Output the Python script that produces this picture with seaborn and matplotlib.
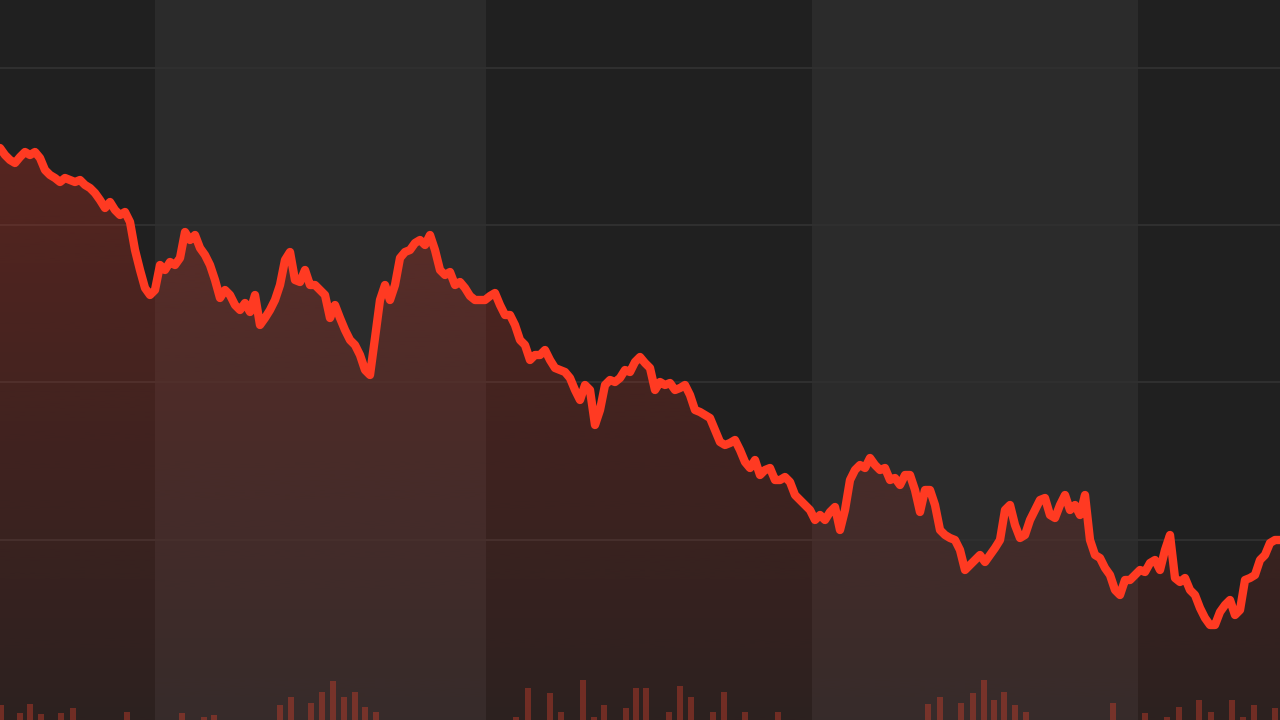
import numpy as np
import pandas as pd
import matplotlib
matplotlib.use("Agg")
import matplotlib.pyplot as plt
from matplotlib.patches import Polygon
from matplotlib.colors import to_rgb
import seaborn as sns

# price level per session (chart units)
price = [572, 565, 560, 557, 563, 568, 565, 568, 562, 550,
         545, 542, 538, 542, 540, 538, 540, 535, 532, 527,
         520, 512, 518, 510, 505, 508, 498, 470, 450, 432,
         425, 430, 455, 450, 458, 455, 462, 488, 480, 485,
         472, 465, 455, 440, 422, 430, 425, 415, 410, 417,
         408, 425, 395, 402, 410, 420, 435, 460, 468, 440,
         438, 450, 435, 435, 430, 425, 402, 415, 402, 390,
         380, 375, 365, 350, 345, 382, 420, 435, 420, 435,
         462, 468, 470, 477, 480, 475, 485, 470, 450, 445,
         448, 435, 438, 432, 424, 420, 420, 420, 424, 427,
         415, 405, 405, 395, 380, 375, 360, 365, 365, 370,
         360, 352, 350, 348, 342, 330, 320, 335, 330, 295,
         310, 335, 340, 338, 342, 350, 348, 358, 363, 357,
         352, 330, 338, 335, 337, 330, 332, 335, 325, 310,
         308, 305, 302, 290, 278, 275, 277, 280, 270, 258,
         252, 260, 245, 250, 252, 240, 240, 243, 238, 225,
         220, 215, 210, 200, 205, 200, 208, 213, 190, 210,
         240, 250, 255, 252, 262, 255, 250, 252, 240, 242,
         235, 245, 245, 230, 208, 230, 230, 215, 190, 185,
         182, 180, 170, 150, 155, 160, 165, 158, 165, 172,
         180, 210, 215, 195, 182, 185, 200, 210, 220, 222,
         205, 202, 215, 225, 210, 215, 205, 225, 180, 165,
         162, 152, 145, 130, 125, 140, 140, 145, 150, 148,
         157, 160, 150, 170, 185, 142, 138, 142, 130, 125,
         112, 102, 95, 95, 108, 115, 120, 105, 110, 140,
         142, 145, 160, 165, 177, 180, 180]

# volume bars: session position and height
vol_pos = [0.2, 4, 6, 8.2, 12.2, 14.6, 25.4, 36.4, 40.8, 42.8,
           56, 58.2, 62.2, 64.4, 66.6, 68.8, 71, 73, 75.2,
           103.2, 105.6, 110, 112.2, 116.6, 118.8, 120.8, 125.2, 127.2,
           129.2, 133.8, 136, 138.2, 142.6, 144.8, 149, 155.6,
           185.6, 188, 192.2, 194.6, 196.8, 198.8, 200.8, 203, 205.2,
           222.6, 229, 233.4, 235.8, 239.8, 242.2, 246.4, 248.6, 250.8, 255]
vol_h = [15, 7, 16, 6, 7, 12, 8, 7, 3, 5,
         15, 23, 17, 28, 39, 23, 28, 13, 8,
         3, 32, 27, 8, 40, 3, 15, 12, 32,
         32, 8, 34, 23, 8, 28, 8, 8,
         16, 23, 17, 27, 40, 20, 28, 15, 8,
         17, 7, 3, 13, 20, 8, 20, 3, 15, 12]

band_edges = [31, 97.2, 162.4, 227.6]
grid_levels = [180, 338, 495, 652]

df = pd.DataFrame({"session": np.arange(len(price)), "price": price})
x_max = len(price) - 1

fig = plt.figure(figsize=(12.8, 7.2), dpi=100)
ax = fig.add_axes([0, 0, 1, 1])
ax.set_facecolor("#202020")
fig.patch.set_facecolor("#202020")

# alternating lighter bands
for a, b in zip(band_edges[0::2], band_edges[1::2]):
    ax.axvspan(a, b, color="#2b2b2b", zorder=0, lw=0)

for g in grid_levels:
    ax.axhline(g, color="#2f2f2f", lw=1.5, zorder=1)

# gradient fill under the line
r, g_, b_ = to_rgb("#d8301f")
grad = np.zeros((256, 1, 4))
grad[:, 0, 0], grad[:, 0, 1], grad[:, 0, 2] = r, g_, b_
grad[:, 0, 3] = np.linspace(0.30, 0.07, 256)
top = max(price) + 10
im = ax.imshow(grad, extent=[0, x_max, 0, top], aspect="auto",
               origin="upper", zorder=2)
verts = np.vstack([[0, 0], df[["session", "price"]].values, [x_max, 0]])
clip = Polygon(verts, closed=True, transform=ax.transData, facecolor="none", edgecolor="none")
ax.add_patch(clip)
im.set_clip_path(clip)

ax.bar(vol_pos, vol_h, width=1.3, bottom=0, color="#d8402c", alpha=0.4,
       zorder=3, lw=0)

sns.lineplot(data=df, x="session", y="price", ax=ax, color="#ff3a22",
             lw=6, zorder=4, solid_capstyle="round", solid_joinstyle="round")

ax.set_xlim(0, x_max)
ax.set_ylim(0, 720)
ax.set_xlabel("")
ax.set_ylabel("")
ax.set_xticks([])
ax.set_yticks([])
for s in ax.spines.values():
    s.set_visible(False)

fig.savefig("out.png", dpi=100, facecolor=fig.get_facecolor())
